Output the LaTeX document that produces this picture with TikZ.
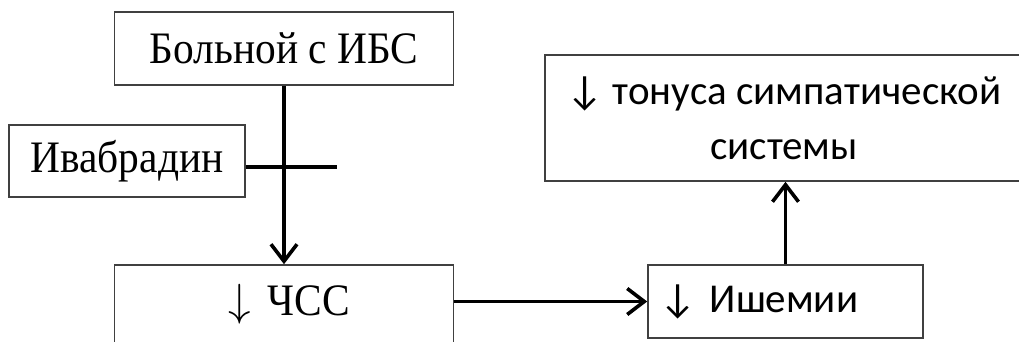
\RequirePackage{fix-cm}
\documentclass[tikz,border=0pt]{standalone}
\usepackage{fontspec}
\setmainfont{Liberation Serif}[FakeStretch=0.92]
\newfontfamily\calib{Carlito}
\usetikzlibrary{arrows.meta}
\tikzset{
  box/.style={draw=black!75, line width=1.6pt, inner sep=0pt, minimum width=#1},
  serifbox/.style={box=#1, font=\fontsize{45}{50}\selectfont},
  sansbox/.style={box=#1, font=\calib\fontsize{41}{55}\selectfont, align=center},
  conn/.style={line width=3.6pt, -{Straight Barb[length=17pt,width=26pt,line width=3.6pt]}},
  bar/.style={line width=3.6pt}
}
\begin{document}
\begin{tikzpicture}[x=1pt,y=-1pt]
\useasboundingbox (0,0) rectangle (1019,342);
\node[serifbox=339pt, minimum height=73pt] (ibs) at (284,48.5) {Больной с ИБС};
\node[serifbox=236pt, minimum height=72pt] (iva) at (127,161) {Ивабрадин};
\node[serifbox=339pt, minimum height=78pt] (chss) at (284,304) {\hspace{10pt}$\downarrow$\hspace{7pt} ЧСС};
\node[sansbox=275pt, minimum height=73pt, text width=253pt, align=left] (isch) at (785.5,301.5) {↓ Ишемии};
\node[sansbox=478pt, minimum height=126pt] (symp) at (784,118) {↓ тонуса симпатической\\системы};
\coordinate (cb) at (337,167);
\draw[bar] (iva.east |- cb) -- (cb);
\draw[conn] (ibs.south) -- (chss.north);
\draw[conn] (chss.east |- isch.west) -- (isch.west);
\draw[conn] (isch.north) -- (isch.north |- symp.south);
\end{tikzpicture}
\end{document}
